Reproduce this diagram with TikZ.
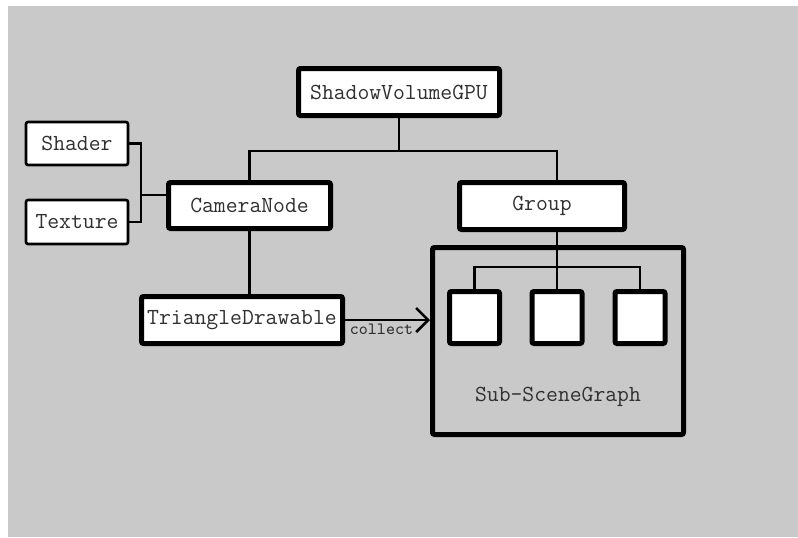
\documentclass[tikz,border=0pt]{standalone}
\usepackage{tikz}
\usetikzlibrary{arrows.meta,positioning,calc}
\definecolor{canvasgray}{RGB}{201,201,201}
\definecolor{inkgray}{RGB}{48,48,48}
\tikzset{
  classbox/.style={draw=black,line width=2.5pt,rounded corners=1pt,minimum width=100.5pt,minimum height=23.5pt,
    inner sep=0pt,fill=white,text=inkgray,font=\ttfamily\fontsize{11.5}{13}\selectfont},
  attrbox/.style={classbox,line width=1.3pt,minimum width=51pt,minimum height=21.5pt},
  leafbox/.style={classbox,minimum width=25pt,minimum height=26pt},
  subframe/.style={draw=black,line width=2.5pt,rounded corners=1pt,minimum width=125.5pt,minimum height=93.5pt,inner sep=0pt},
  framelabel/.style={text=inkgray,inner sep=0pt,font=\ttfamily\fontsize{11.5}{13}\selectfont},
  treeedge/.style={line width=1.3pt,draw=black},
  collectedge/.style={-{Straight Barb[length=6pt,width=12pt]},line width=1.3pt,draw=black},
  edgenote/.style={font=\ttfamily\fontsize{8.6}{10}\selectfont,text=inkgray,inner sep=1.5pt}
}

\begin{document}
\begin{tikzpicture}[x=0.5pt,y=-0.5pt]
  \useasboundingbox (0,0) rectangle (798,537);
  \fill[canvasgray] (8,6) rectangle (798,537);

  \node[classbox] (svgpu) at (399,92) {ShadowVolumeGPU};
  \node[attrbox] (shader) at (77,143.5) {Shader};
  \node[attrbox,minimum height=22pt] (texture) at (77,222) {Texture};
  \node[classbox,minimum width=81pt,minimum height=23pt] (camera) at (249.5,205.5) {CameraNode};
  \node[classbox,minimum width=82.5pt] (group) at (542,206) {Group};
  \node[classbox] (tri) at (242,320) {TriangleDrawable};
  \node[subframe] (sub) at (558,341) {};
  \node[leafbox] (leafa) at (474.5,317.5) {};
  \node[leafbox] (leafb) at (557,317.5) {};
  \node[leafbox] (leafc) at (640,317.5) {};
  \node[framelabel] (subname) at (558,397) {Sub-SceneGraph};

  \coordinate (bus) at (399,151);
  \coordinate (join) at (141,195);
  \coordinate (fork) at (557,267);

  \draw[treeedge] (svgpu.south) -- (bus);
  \draw[treeedge] (camera.north) |- (bus) -| (leafb.north |- group.north);
  \draw[treeedge] (shader.east) -| (join) |- (texture.east);
  \draw[treeedge] (join) -- (join -| camera.west);
  \draw[treeedge] (camera.south) -- (camera.south |- tri.north);
  \draw[treeedge] (leafb.north |- group.south) -- (leafb.north);
  \draw[treeedge] (leafa.north) |- (fork) -| (leafc.north);
  \draw[collectedge] (tri.east) -- (tri.east -| sub.west) node[edgenote,midway,below,xshift=-3pt]{collect};
\end{tikzpicture}
\end{document}
